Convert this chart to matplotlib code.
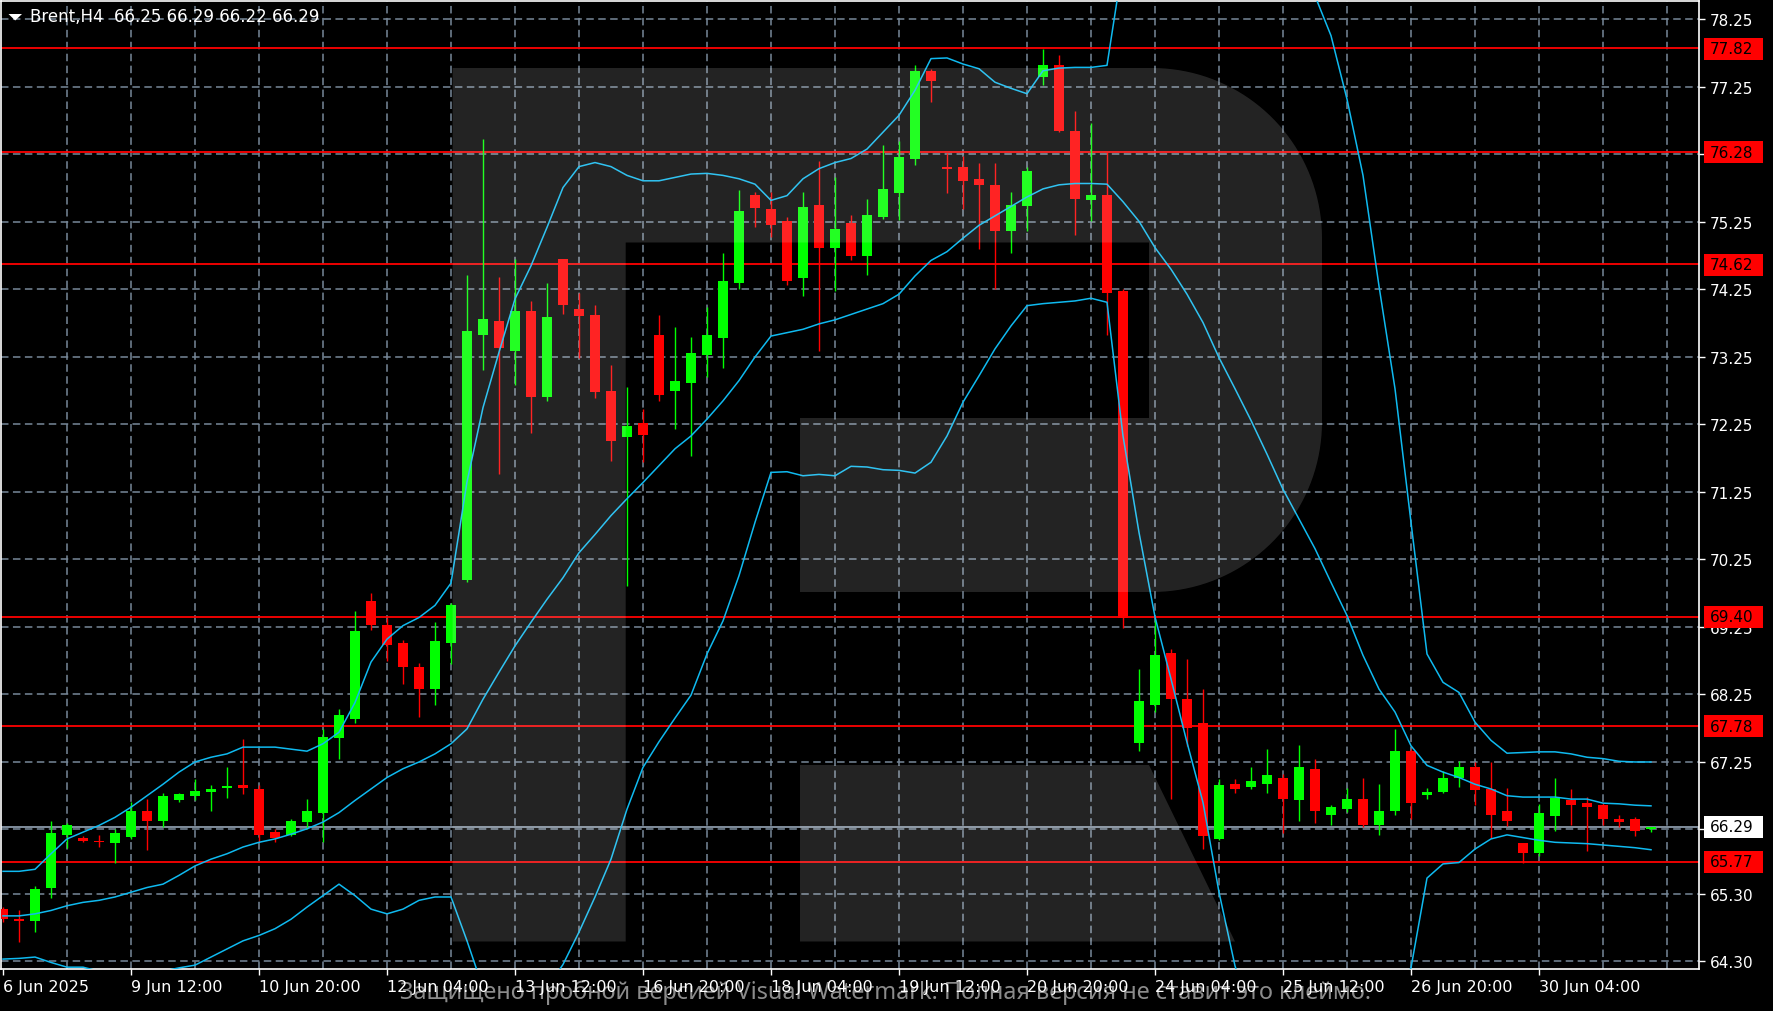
import numpy as np
import matplotlib
matplotlib.use('Agg')
import matplotlib.pyplot as plt
from matplotlib.patches import Polygon, Rectangle

W, H = 1774, 1012

# Brent H4 candles
opens = [65.07, 64.92, 64.90, 65.38, 66.17, 66.13, 66.08, 66.05, 66.14, 66.52,
         66.37, 66.68, 66.74, 66.80, 66.87, 66.91, 66.85, 66.22, 66.17, 66.36,
         66.50, 67.60, 67.89, 69.63, 69.28, 69.01, 68.65, 68.33, 69.01, 69.94,
         73.58, 73.78, 73.34, 73.93, 72.66, 74.70, 73.96, 73.87, 72.74, 72.07,
         72.27, 73.58, 72.75, 72.87, 73.28, 73.53, 74.35, 75.65, 75.44, 75.27,
         74.42, 75.50, 74.86, 75.24, 74.74, 75.32, 75.68, 76.18, 77.49, 76.06,
         76.07, 75.89, 75.80, 75.12, 75.48, 77.40, 77.58, 76.60, 75.57, 75.65,
         74.23, 67.53, 68.10, 68.87, 68.18, 67.83, 66.11, 66.93, 66.88, 66.93,
         67.02, 66.68, 67.15, 66.47, 66.55, 66.70, 66.32, 66.53, 67.42, 66.76,
         66.80, 67.01, 67.17, 66.85, 66.52, 66.05, 65.90, 66.45, 66.68, 66.64,
         66.61, 66.40, 66.41, 66.25]
highs = [65.10, 65.06, 65.42, 66.37, 66.35, 66.15, 66.17, 66.26, 66.66, 66.70,
         66.79, 66.79, 67.00, 66.91, 67.17, 67.59, 66.91, 66.26, 66.40, 66.70,
         67.74, 68.04, 69.49, 69.75, 69.39, 69.05, 68.72, 69.33, 69.60, 74.46,
         76.48, 74.43, 74.70, 74.08, 74.35, 74.70, 74.20, 74.02, 73.13, 72.81,
         72.48, 73.87, 73.69, 73.54, 73.99, 74.79, 75.73, 75.70, 75.69, 75.32,
         75.70, 76.15, 75.91, 75.35, 75.59, 76.39, 76.45, 77.58, 77.52, 76.27,
         76.23, 76.12, 76.12, 75.70, 76.06, 77.81, 77.72, 76.89, 76.72, 76.28,
         74.25, 68.63, 69.37, 68.92, 68.78, 68.33, 67.00, 67.00, 67.17, 67.44,
         67.07, 67.50, 67.30, 66.61, 66.87, 67.02, 66.93, 67.74, 67.44, 66.87,
         67.11, 67.27, 67.25, 67.25, 66.87, 66.05, 66.63, 67.02, 66.85, 66.73,
         66.64, 66.46, 66.43, 66.29]
lows = [64.88, 64.58, 64.73, 65.23, 65.97, 66.06, 65.99, 65.76, 66.11, 65.94,
        66.29, 66.65, 66.68, 66.53, 66.71, 66.77, 66.07, 66.06, 66.15, 66.26,
        66.07, 67.29, 67.83, 69.20, 68.74, 68.40, 67.92, 68.10, 68.70, 69.91,
        73.05, 71.51, 72.83, 72.13, 72.60, 73.88, 73.23, 72.64, 71.71, 69.85,
        71.69, 72.60, 72.19, 71.78, 72.96, 73.08, 74.25, 75.18, 75.03, 74.32,
        74.15, 73.34, 74.23, 74.68, 74.47, 75.30, 75.28, 76.10, 77.02, 75.68,
        75.44, 74.85, 74.26, 74.79, 75.11, 77.28, 76.58, 75.06, 75.27, 73.58,
        69.23, 67.42, 67.99, 66.70, 67.49, 65.96, 66.10, 66.79, 66.85, 66.79,
        66.20, 66.38, 66.35, 66.32, 66.51, 66.28, 66.17, 66.47, 66.41, 66.70,
        66.79, 66.88, 66.62, 66.13, 66.30, 65.75, 65.86, 66.23, 66.32, 65.93,
        66.32, 66.28, 66.15, 66.22]
closes = [64.92, 64.90, 65.37, 66.20, 66.32, 66.08, 66.06, 66.20, 66.52, 66.38,
          66.74, 66.77, 66.82, 66.85, 66.88, 66.86, 66.17, 66.13, 66.38, 66.52,
          67.62, 67.95, 69.19, 69.28, 68.99, 68.66, 68.33, 69.04, 69.58, 73.63,
          73.81, 73.38, 73.93, 72.66, 73.84, 74.02, 73.85, 72.73, 72.01, 72.23,
          72.10, 72.69, 72.89, 73.31, 73.58, 74.37, 75.41, 75.45, 75.21, 74.38,
          75.47, 74.86, 75.15, 74.74, 75.35, 75.74, 76.21, 77.49, 77.34, 76.04,
          75.86, 75.80, 75.12, 75.50, 76.01, 77.58, 76.60, 75.59, 75.65, 74.20,
          69.39, 68.16, 68.84, 68.18, 67.75, 66.15, 66.91, 66.85, 66.97, 67.06,
          66.70, 67.17, 66.53, 66.58, 66.70, 66.32, 66.52, 67.41, 66.64, 66.81,
          67.02, 67.17, 66.83, 66.47, 66.38, 65.90, 66.49, 66.71, 66.61, 66.59,
          66.41, 66.36, 66.23, 66.29]

# Bollinger bands as drawn on the chart (values past the edges are estimates)
bb_upper = [65.63, 65.63, 65.66, 65.89, 66.11, 66.21, 66.31, 66.43, 66.58, 66.75,
            66.92, 67.10, 67.25, 67.32, 67.37, 67.47, 67.47, 67.47, 67.44, 67.41,
            67.52, 67.69, 68.13, 68.73, 69.07, 69.27, 69.39, 69.57, 69.90, 71.40,
            72.50, 73.32, 74.11, 74.60, 75.17, 75.76, 76.07, 76.13, 76.07, 75.94,
            75.86, 75.86, 75.91, 75.96, 75.97, 75.94, 75.89, 75.81, 75.57, 75.64,
            75.89, 76.04, 76.13, 76.19, 76.33, 76.58, 76.83, 77.20, 77.67, 77.68,
            77.59, 77.52, 77.32, 77.23, 77.15, 77.49, 77.53, 77.54, 77.54, 77.57,
            79.10, 79.90, 80.50, 80.90, 81.10, 81.20, 81.20, 81.00, 80.60, 80.10,
            79.60, 79.10, 78.60, 78.01, 77.07, 75.94, 74.30, 72.78, 70.80, 68.85,
            68.43, 68.28, 67.84, 67.57, 67.38, 67.39, 67.40, 67.40, 67.37, 67.32,
            67.30, 67.26, 67.25, 67.25]
bb_middle = [64.97, 64.97, 65.00, 65.05, 65.12, 65.17, 65.20, 65.25, 65.32, 65.39,
             65.44, 65.57, 65.71, 65.81, 65.89, 65.99, 66.06, 66.11, 66.18, 66.26,
             66.36, 66.50, 66.68, 66.85, 67.02, 67.15, 67.25, 67.37, 67.52, 67.74,
             68.18, 68.58, 68.97, 69.32, 69.66, 69.98, 70.35, 70.62, 70.90, 71.15,
             71.39, 71.64, 71.89, 72.08, 72.33, 72.60, 72.90, 73.25, 73.56, 73.61,
             73.66, 73.74, 73.80, 73.88, 73.96, 74.04, 74.18, 74.45, 74.68, 74.81,
             75.01, 75.20, 75.34, 75.48, 75.62, 75.74, 75.80, 75.82, 75.82, 75.81,
             75.55, 75.26, 74.87, 74.55, 74.18, 73.76, 73.24, 72.78, 72.31, 71.81,
             71.29, 70.85, 70.41, 69.91, 69.42, 68.83, 68.33, 67.99, 67.49, 67.20,
             67.10, 67.02, 66.92, 66.85, 66.75, 66.73, 66.73, 66.73, 66.70, 66.70,
             66.64, 66.63, 66.61, 66.60]
bb_lower = [64.33, 64.34, 64.36, 64.28, 64.21, 64.21, 64.15, 64.10, 64.08, 64.10,
            64.15, 64.20, 64.24, 64.36, 64.48, 64.60, 64.68, 64.78, 64.92, 65.10,
            65.27, 65.44, 65.27, 65.07, 65.00, 65.07, 65.20, 65.25, 65.25, 64.60,
            63.90, 63.50, 63.40, 63.60, 63.90, 64.25, 64.73, 65.25, 65.81, 66.55,
            67.17, 67.55, 67.90, 68.24, 68.85, 69.34, 70.01, 70.80, 71.54, 71.55,
            71.49, 71.51, 71.49, 71.63, 71.62, 71.58, 71.57, 71.53, 71.69, 72.08,
            72.58, 72.97, 73.37, 73.71, 74.01, 74.04, 74.06, 74.08, 74.12, 74.06,
            72.08, 70.65, 69.40, 68.48, 67.54, 66.65, 65.32, 64.23, 63.50, 63.00,
            62.70, 62.50, 62.40, 62.50, 62.70, 63.00, 63.40, 63.80, 64.20, 65.53,
            65.74, 65.76, 65.96, 66.11, 66.17, 66.13, 66.09, 66.06, 66.05, 66.04,
            66.02, 66.00, 65.98, 65.95]

levels = [77.82, 76.28, 74.62, 69.40, 67.78, 65.77]
bid = 66.29
price_ticks = [78.25, 77.25, 76.25, 75.25, 74.25, 73.25, 72.25, 71.25, 70.25,
               69.25, 68.25, 67.25, 66.25, 65.30, 64.30]
time_ticks = [0, 8, 16, 24, 32, 40, 48, 56, 64, 72, 80, 88, 96]
time_labels = ['6 Jun 2025', '9 Jun 12:00', '10 Jun 20:00', '12 Jun 04:00',
               '13 Jun 12:00', '16 Jun 20:00', '18 Jun 04:00', '19 Jun 12:00',
               '20 Jun 20:00', '24 Jun 04:00', '25 Jun 12:00', '26 Jun 20:00',
               '30 Jun 04:00']

plt.rcParams['font.family'] = 'DejaVu Sans'
plt.rcParams['lines.scale_dashes'] = False

GRID = '#778899'
BAND = '#0fbaf0'


def fx(px):
    return px / W


def fy(py):
    return 1 - py / H


def price_y(p):
    # screen row of a price in the screenshot
    return 20.5 + (78.25 - p) * 67.5


fig = plt.figure(figsize=(W / 100, H / 100), dpi=100, facecolor='black')
ax = fig.add_axes([fx(1), fy(970), (1699 - 1) / W, (970 - 1.5) / H])
ax.set_facecolor('black')
ax.set_xlim(-0.125, 106.0)
ax.set_ylim(64.183, 78.531)

# dashed grid
for p in price_ticks:
    ax.axhline(p, color=GRID, lw=1.1, dashes=(5.4, 3.2), zorder=1)
for b in range(4, 105, 4):
    ax.axvline(b, color=GRID, lw=1.1, dashes=(5.4, 3.2), zorder=1)

# support / resistance levels and bid line
for lv in levels:
    ax.axhline(lv, color='#ff0000', lw=1.3, zorder=2)
ax.axhline(bid, color='#8a98a8', lw=1.3, zorder=2)

# candles
x = np.arange(len(opens))
o = np.array(opens)
c = np.array(closes)
colors = np.where(c >= o, '#00ff00', '#ff0000')
ax.vlines(x, lows, highs, colors=colors, lw=1.0, zorder=3)
ax.bar(x, np.maximum(np.abs(c - o), 0.018), width=0.62, bottom=np.minimum(o, c),
       color=colors, lw=0, zorder=4)

# bands
ax.plot(x, bb_upper, color=BAND, lw=1.1, zorder=5)
ax.plot(x, bb_middle, color=BAND, lw=1.1, zorder=5)
ax.plot(x, bb_lower, color=BAND, lw=1.1, zorder=5)

for s in ax.spines.values():
    s.set_color('white')
    s.set_linewidth(1.2)

ax.yaxis.tick_right()
ax.set_yticks(price_ticks)
ax.set_yticklabels(['%.2f' % p for p in price_ticks])
ax.set_xticks(time_ticks)
ax.set_xticklabels(time_labels, ha='left')
ax.tick_params(axis='both', colors='white', labelcolor='white', labelsize=11,
               length=4, width=1, direction='out')
ax.tick_params(axis='y', pad=4)
ax.tick_params(axis='x', pad=3, labelsize=11.5)

# price boxes on the scale
for lv in levels + [bid]:
    yc = price_y(lv)
    face = 'white' if lv == bid else '#ff0000'
    fig.add_artist(Rectangle((fx(1704), fy(yc + 11)), 59 / W, 22 / H,
                             transform=fig.transFigure, facecolor=face, lw=0, zorder=6))
    fig.text(fx(1710), fy(yc), '%.2f' % lv, color='black', fontsize=11,
             va='center', ha='left', zorder=7)

# translucent "R" logo over the plot
r = 170
t1 = np.linspace(-np.pi / 2, 0, 40)
t2 = np.linspace(0, np.pi / 2, 40)
outline = [(452.6, 942.5), (452.6, 69), (1152, 69)]
outline += [(1152 + r * np.cos(t), 239 + r * np.sin(t)) for t in t1]
outline += [(1152 + r * np.cos(t), 423 + r * np.sin(t)) for t in t2]
outline += [(800, 593), (800, 419), (1149, 419), (1149, 243.5), (625.7, 243.5), (625.7, 942.5)]
leg = [(800, 766), (1149, 766), (1235, 942.5), (800, 942.5)]
for shape in (outline, leg):
    pts = [(fx(a), fy(b)) for a, b in shape]
    fig.add_artist(Polygon(pts, closed=True, transform=fig.transFigure,
                           facecolor='white', alpha=0.14, lw=0, zorder=8))

# header
fig.add_artist(Polygon([(fx(8.5), fy(15)), (fx(22), fy(15)), (fx(15.2), fy(21.5))],
                       closed=True, transform=fig.transFigure, facecolor='white', lw=0, zorder=9))
fig.text(fx(30), fy(17.5), 'Brent,H4  %.2f %.2f %.2f %.2f' % (opens[-1], highs[-1], lows[-1], closes[-1]),
         color='white', fontsize=12, va='center', ha='left', zorder=9)

# trial watermark
fig.text(fx(886), fy(999), 'Защищено пробной версией Visual Watermark. Полная версия не ставит это клеймо.',
         color='white', alpha=0.55, fontsize=16.9, family='Noto Sans',
         ha='center', va='baseline', zorder=10)

plt.savefig('out.png', dpi=100, facecolor='black')
